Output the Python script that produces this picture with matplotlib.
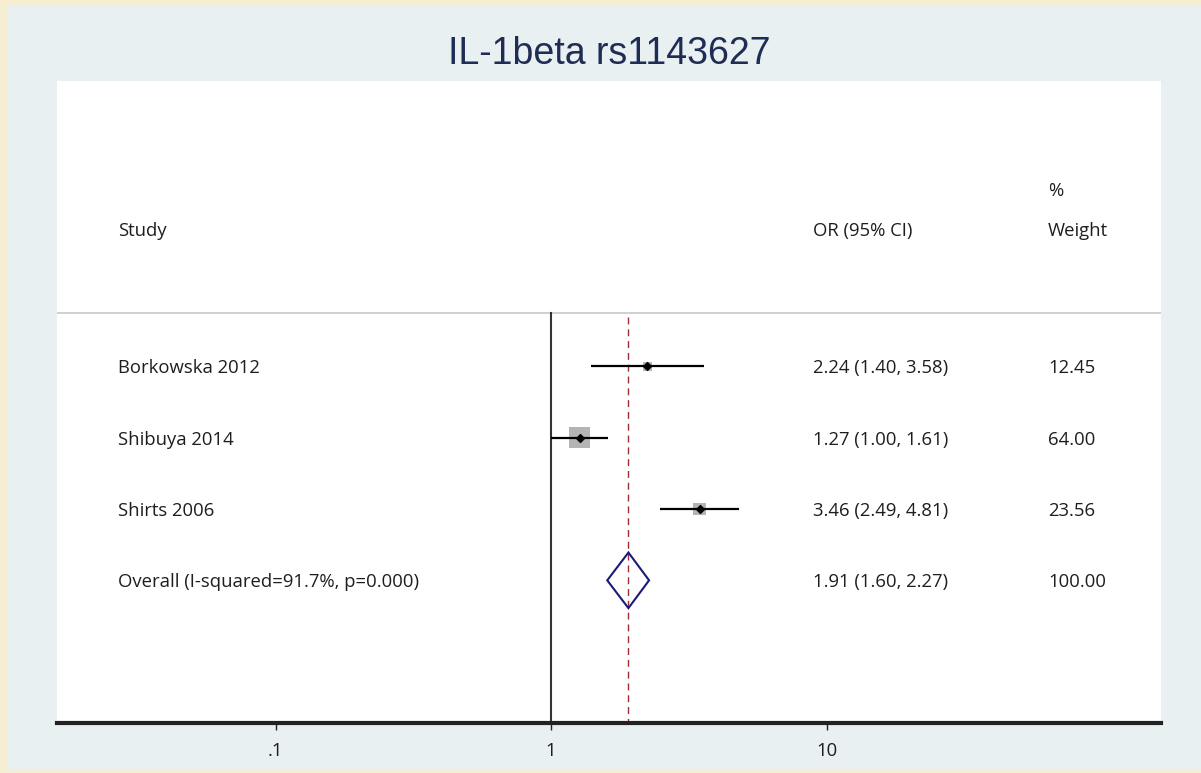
import numpy as np
import matplotlib.pyplot as plt
from matplotlib.patches import Rectangle, Polygon

# Study data
studies = ["Borkowska 2012", "Shibuya 2014", "Shirts 2006"]
or_est = [2.24, 1.27, 3.46]
ci_lo = [1.40, 1.00, 2.49]
ci_hi = [3.58, 1.61, 4.81]
weights = [12.45, 64.00, 23.56]

# Pooled estimate
overall_label = "Overall (I-squared=91.7%, p=0.000)"
overall_est = 1.91
overall_lo = 1.60
overall_hi = 2.27
overall_weight = 100.00

tick_vals = [0.1, 1, 10]
tick_labels = [".1", "1", "10"]

txt_font = ["Open Sans", "DejaVu Sans"]
txt_size = 13.3
txt_color = "#1e1e1e"

fig = plt.figure(figsize=(12.01, 7.73), dpi=100, facecolor="#f6eed3")
# inner blue-grey panel, kept behind the axes
fig.patches.append(Rectangle((7 / 1201, 3 / 773), 1194 / 1201, 764 / 773,
                             transform=fig.transFigure, facecolor="#e8f0f2",
                             edgecolor="none", zorder=-5))

ax = fig.add_axes([57 / 1201, 1 - 723 / 773, 1104 / 1201, 642 / 773])
ax.set_facecolor("white")
ax.set_xscale("log")
ax.set_xlim(10 ** ((57 - 551) / 275.5), 10 ** ((1161 - 551) / 275.5))
ax.set_ylim(5, -4)

for s in ["left", "right", "top"]:
    ax.spines[s].set_visible(False)
ax.spines["bottom"].set_linewidth(3)
ax.spines["bottom"].set_color("#222222")
ax.set_yticks([])
ax.set_xticks(tick_vals)
ax.set_xticklabels(tick_labels, fontfamily=txt_font, fontsize=txt_size, color=txt_color)
ax.minorticks_off()
ax.tick_params(axis="x", length=5, width=1, pad=9, color="#222222")

# header separator and reference lines
ax.axhline(-0.75, color="#c8c8c8", lw=1.2)
ax.plot([1, 1], [-0.75, 5], color="#333333", lw=1.5, zorder=2)
ax.plot([overall_est, overall_est], [-0.69, 5], color="#a02c36", lw=1,
        dashes=(5, 3.5), zorder=2)

rows = np.arange(len(studies))
side_pt = 2.55 * np.sqrt(weights) * 0.72
ax.scatter(or_est, rows, marker="s", s=side_pt ** 2, color="#b4b4b4",
           edgecolors="none", zorder=3)
ax.hlines(rows, ci_lo, ci_hi, color="black", lw=1.6, zorder=4)
ax.scatter(or_est, rows, marker="D", s=16, color="black", zorder=5)

yo = len(studies)
ax.add_patch(Polygon([(overall_lo, yo), (overall_est, yo - 0.39),
                      (overall_hi, yo), (overall_est, yo + 0.39)],
                     closed=True, facecolor="none", edgecolor="#1a1a7a",
                     lw=1.5, zorder=4))

# text columns
tr = ax.get_yaxis_transform()
x_study, x_or, x_wt = 0.0553, 0.6848, 0.8977
dy = 0.03
kw = dict(fontfamily=txt_font, fontsize=txt_size, color=txt_color,
          va="center", transform=tr)
ax.text(x_study, -1.93 + dy, "Study", **kw)
ax.text(x_or, -1.93 + dy, "OR (95% CI)", **kw)
ax.text(x_wt, -1.93 + dy, "Weight", **kw)
ax.text(x_wt, -2.49 + dy, "%", **kw)

for i in rows:
    ax.text(x_study, i + dy, studies[i], **kw)
    ax.text(x_or, i + dy, f"{or_est[i]:.2f} ({ci_lo[i]:.2f}, {ci_hi[i]:.2f})", **kw)
    ax.text(x_wt, i + dy, f"{weights[i]:.2f}", **kw)

ax.text(x_study, yo + dy, overall_label, **kw)
ax.text(x_or, yo + dy, f"{overall_est:.2f} ({overall_lo:.2f}, {overall_hi:.2f})", **kw)
ax.text(x_wt, yo + dy, f"{overall_weight:.2f}", **kw)

fig.text(609 / 1201, 1 - 54 / 773, "IL-1beta rs1143627", ha="center", va="center",
         fontfamily=["Liberation Sans", "DejaVu Sans"], fontsize=27, color="#1f2d54")

fig.savefig("out.png", dpi=100, facecolor=fig.get_facecolor())
